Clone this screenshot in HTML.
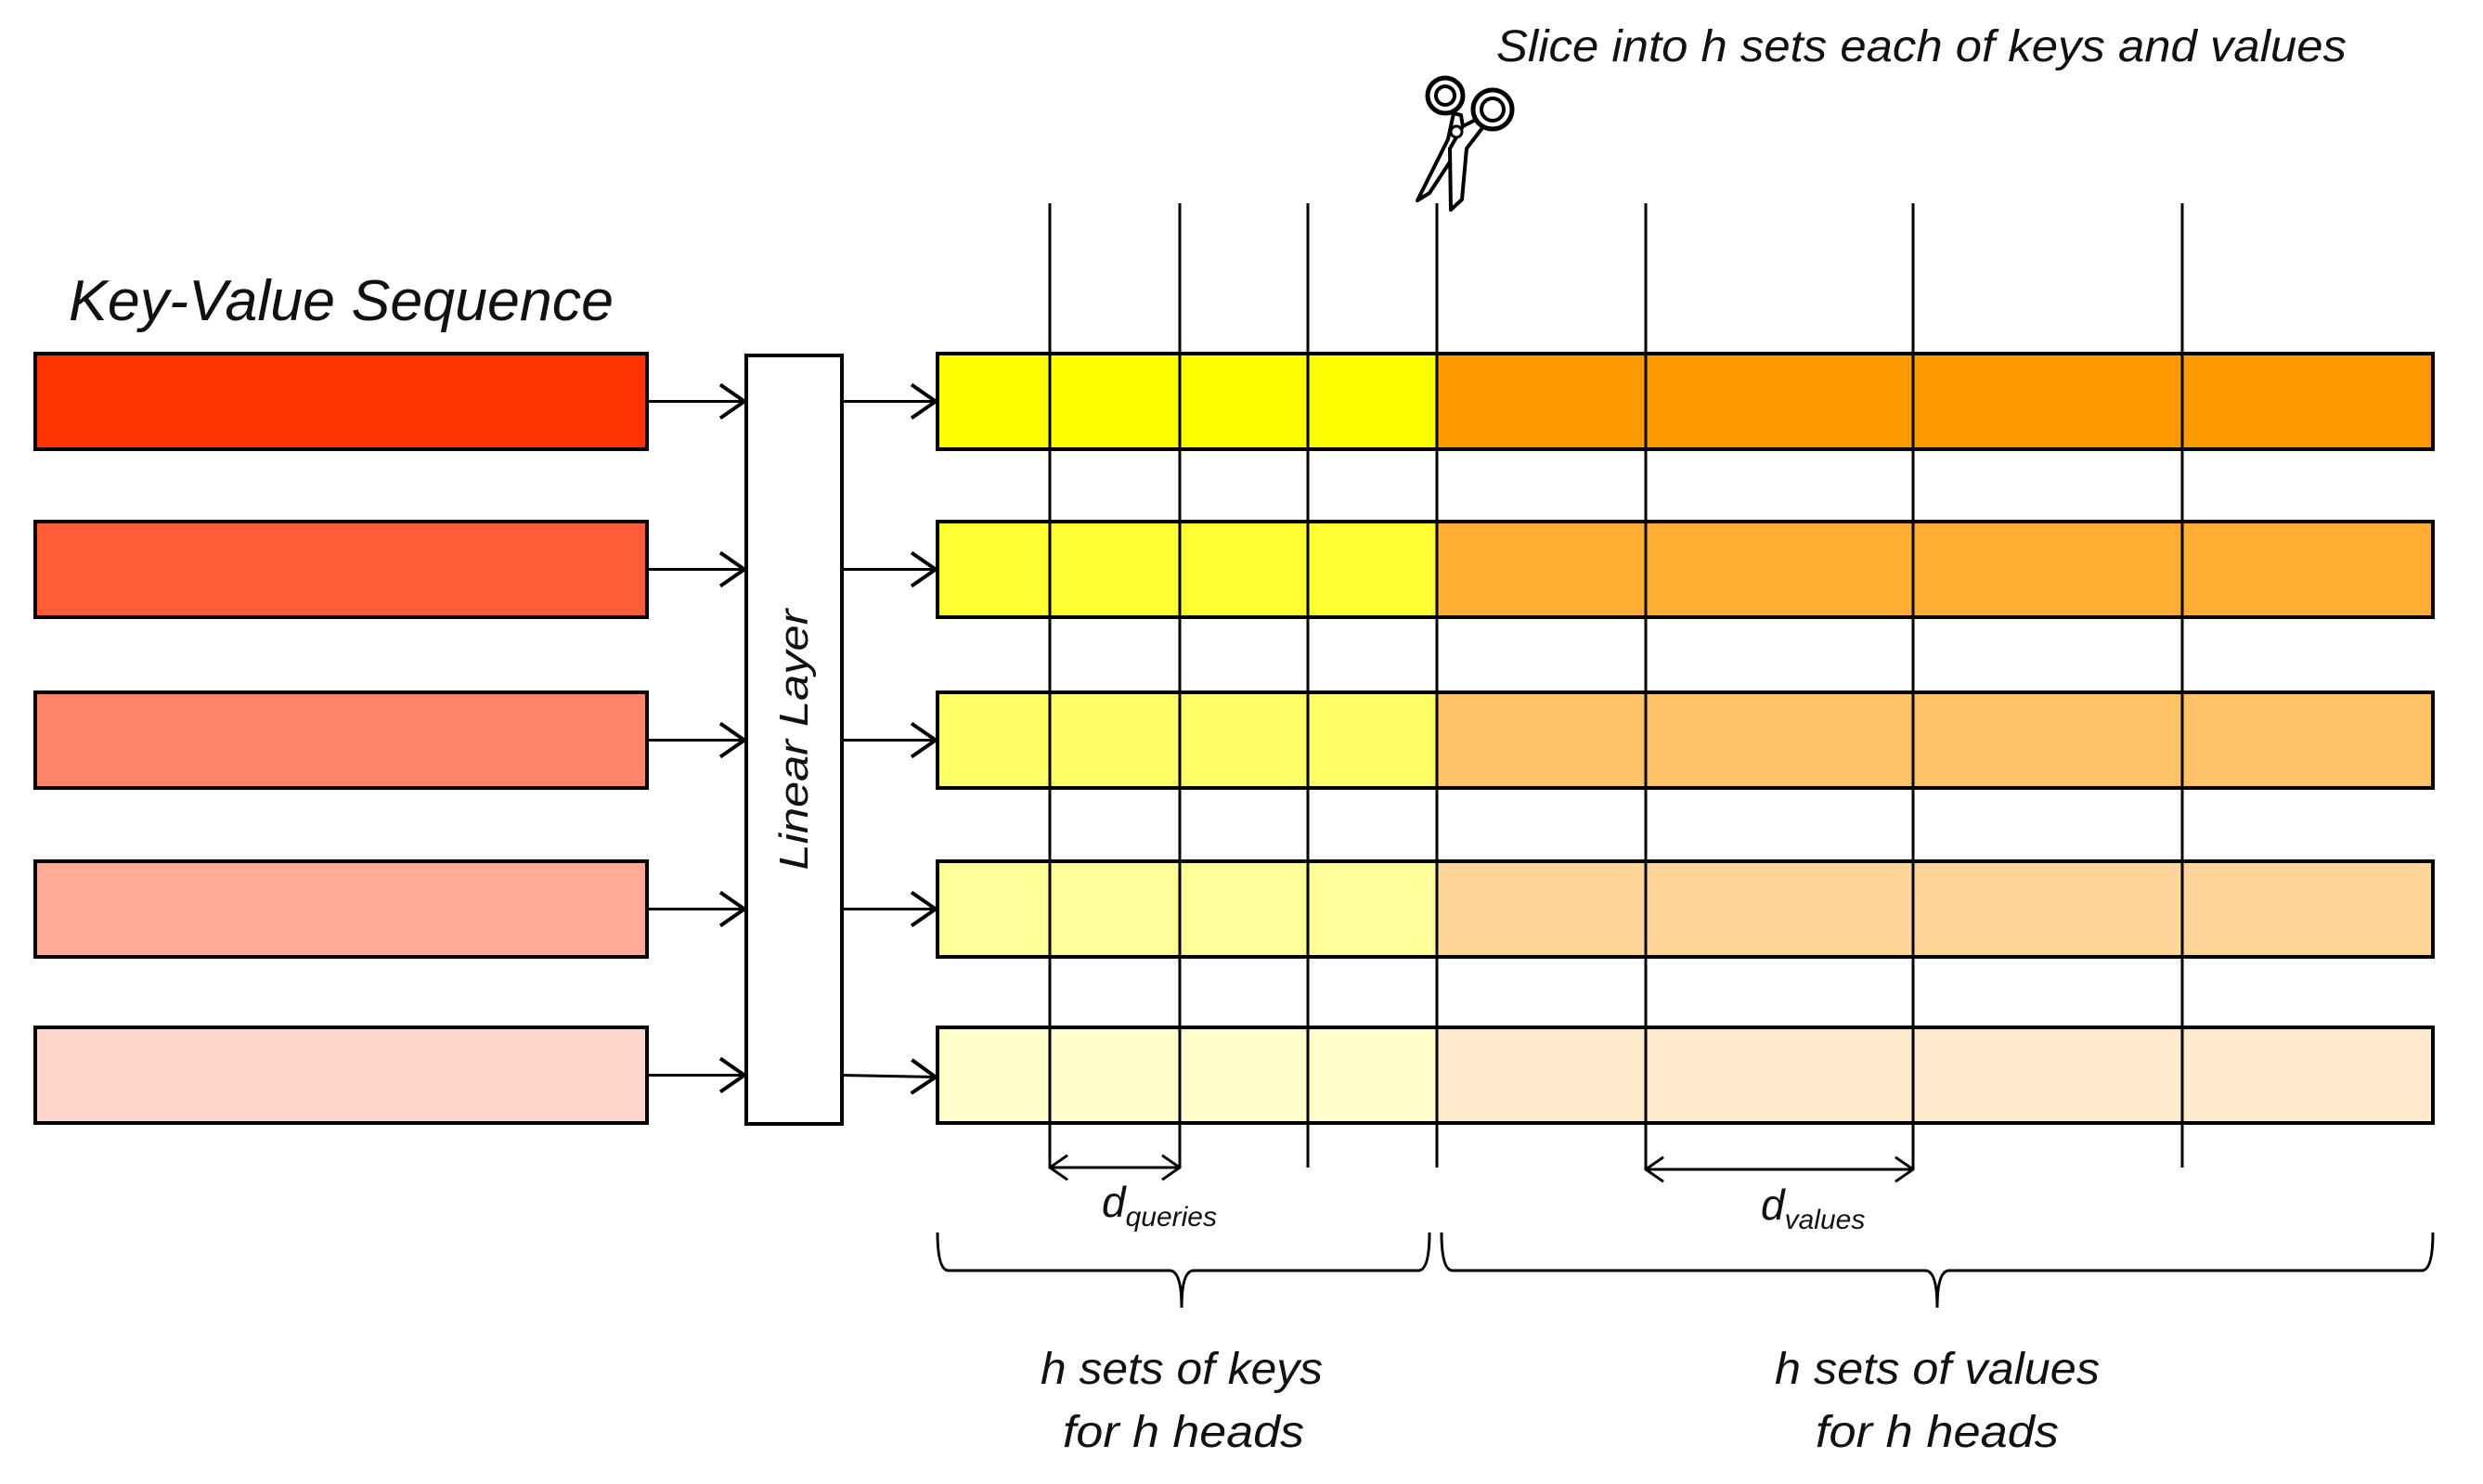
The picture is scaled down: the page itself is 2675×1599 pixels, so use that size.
<!DOCTYPE html>
<html><head><meta charset="utf-8"><style>
html,body{margin:0;padding:0;background:#fff}
svg{display:block}
text{font-family:"Liberation Sans",sans-serif;font-style:italic;fill:#111}
</style></head><body>
<svg width="2675" height="1599" viewBox="0 0 2675 1599">
<defs>
<marker id="ah" viewBox="0 0 30 40" refX="28" refY="20" markerWidth="30" markerHeight="40" markerUnits="userSpaceOnUse" orient="auto">
<path d="M2,2 L28,20 L2,38" fill="none" stroke="#000" stroke-width="4"/>
</marker>
<marker id="ahs" viewBox="0 0 30 40" refX="28" refY="20" markerWidth="22" markerHeight="30" markerUnits="userSpaceOnUse" orient="auto-start-reverse">
<path d="M2,2 L28,20 L2,38" fill="none" stroke="#000" stroke-width="4"/>
</marker>
</defs>
<text x="1612" y="66" font-size="48" textLength="916" lengthAdjust="spacingAndGlyphs">Slice into h sets each of keys and values</text>
<text x="74" y="345" font-size="62" textLength="587" lengthAdjust="spacingAndGlyphs">Key-Value Sequence</text>
<g id="rows"></g>
<rect x="804" y="383" width="103" height="828" fill="#fff" stroke="#000" stroke-width="4"/>
<text transform="translate(870,797) rotate(-90)" text-anchor="middle" font-size="44" textLength="281" lengthAdjust="spacingAndGlyphs">Linear Layer</text>
<g id="vlines"></g>
<g fill="#fff" stroke="#000" stroke-linejoin="round">
<path d="M1527,216 L1560,150 L1566,122 L1574,124 L1578,150 L1540,208 Z" stroke-width="4"/>
<path d="M1563,226 L1562,160 L1576,136 L1596,126 L1600,134 L1580,160 L1575,215 Z" stroke-width="4"/>
<circle cx="1557" cy="103" r="19" stroke-width="5"/>
<circle cx="1557" cy="103" r="10" stroke-width="4"/>
<circle cx="1608" cy="118" r="21" stroke-width="5"/>
<circle cx="1608" cy="118" r="12" stroke-width="4"/>
<circle cx="1569" cy="142" r="6" stroke-width="3"/>
</g>
<line x1="1131" y1="1258" x2="1271" y2="1258" stroke="#000" stroke-width="3" marker-start="url(#ahs)" marker-end="url(#ahs)"/>
<line x1="1773" y1="1260" x2="2061" y2="1260" stroke="#000" stroke-width="3" marker-start="url(#ahs)" marker-end="url(#ahs)"/>
<text x="1187" y="1311" font-size="46">d<tspan font-size="30" dy="10">queries</tspan></text>
<text x="1897" y="1314" font-size="46">d<tspan font-size="30" dy="10">values</tspan></text>
<path d="M1010,1328 Q1010,1369 1022,1369 L1260,1369 Q1273,1369 1273,1409 Q1273,1369 1286,1369 L1528,1369 Q1540,1369 1540,1328" fill="none" stroke="#000" stroke-width="3"/>
<path d="M1553,1328 Q1553,1369 1565,1369 L2074,1369 Q2087,1369 2087,1409 Q2087,1369 2100,1369 L2609,1369 Q2621,1369 2621,1328" fill="none" stroke="#000" stroke-width="3"/>
<text x="1273" y="1491" font-size="48" text-anchor="middle" textLength="304" lengthAdjust="spacingAndGlyphs">h sets of keys</text>
<text x="1275" y="1559" font-size="48" text-anchor="middle" textLength="260" lengthAdjust="spacingAndGlyphs">for h heads</text>
<text x="2087" y="1491" font-size="48" text-anchor="middle" textLength="350" lengthAdjust="spacingAndGlyphs">h sets of values</text>
<text x="2087" y="1559" font-size="48" text-anchor="middle" textLength="262" lengthAdjust="spacingAndGlyphs">for h heads</text>
</svg>
<script>
const rowTops=[381,562,746,928,1107];
const inputColors=["#ff3300","#ff5c38","#ff866a","#ffab98","#ffd5cc"];
const keyColors=["#ffff00","#ffff33","#ffff66","#ffff99","#ffffcc"];
const valueColors=["#ff9900","#ffad33","#ffc266","#ffd699","#ffebcc"];
const NS="http://www.w3.org/2000/svg";
const rows=document.getElementById('rows');
function mk(t,a){const e=document.createElementNS(NS,t);for(const k in a)e.setAttribute(k,a[k]);return e;}
rowTops.forEach((y,i)=>{
  const h=103,cy=y+h/2;
  let r=mk('rect',{x:38,y:y,width:659,height:h,fill:inputColors[i],stroke:'#000','stroke-width':4});
  
  
  rows.appendChild(r);
  let a=mk('line',{x1:697,y1:cy,x2:802,y2:cy,stroke:'#000','stroke-width':3,'marker-end':'url(#ah)'});
  
  
  rows.appendChild(a);
  let b=mk('line',{x1:906,y1:cy,x2:1008,y2:cy+(i==4?2:0),stroke:'#000','stroke-width':3,'marker-end':'url(#ah)'});
  
  
  rows.appendChild(b);
  let k=mk('rect',{x:1010,y:y,width:538,height:h,fill:keyColors[i]});
  
  
  rows.appendChild(k);
  let v=mk('rect',{x:1548,y:y,width:1073,height:h,fill:valueColors[i]});
  
  
  rows.appendChild(v);
  let o=mk('rect',{x:1010,y:y,width:1611,height:h,fill:'none',stroke:'#000','stroke-width':4});
  
  
  rows.appendChild(o);
});
const vl=document.getElementById('vlines');
[[1131,1258],[1271,1258],[1409,1258],[1548,1258],[1773,1260],[2061,1260],[2351,1258]].forEach((p,i)=>{
  let l=mk('line',{x1:p[0],y1:219,x2:p[0],y2:p[1],stroke:'#000','stroke-width':3});
  
  
  vl.appendChild(l);
});
</script>
</body></html>
